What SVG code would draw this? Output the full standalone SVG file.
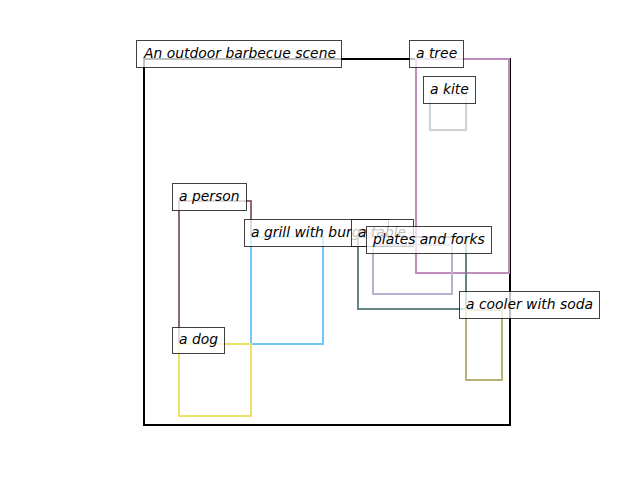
<svg xmlns="http://www.w3.org/2000/svg" width="640" height="480" viewBox="0 0 640 480">
<style>
.box{fill:none;stroke-width:2}
.lb{fill:#fff;fill-opacity:0.75;stroke:#000;stroke-opacity:0.75;stroke-width:1}
.t{font-family:"DejaVu Sans",sans-serif;font-style:italic;font-size:13.9px;fill:#000}
</style>
<rect width="640" height="480" fill="#fff"/>
<g id="scene">
<rect class="box" x="144" y="59" width="366" height="366" stroke="#000"/>
<rect class="lb" x="136.5" y="40.5" width="205" height="27"/>
<text class="t" x="144" y="57.5">An outdoor barbecue scene</text>
</g>
<g id="tree">
<rect class="box" x="416" y="59" width="93" height="214" stroke="#c08cbf"/>
<rect class="lb" x="409.5" y="40.5" width="54" height="27"/>
<text class="t" x="416" y="57.5">a tree</text>
</g>
<g id="kite">
<rect class="box" x="430" y="95" width="36" height="35" stroke="#d0d0d0"/>
<rect class="lb" x="423.5" y="76.5" width="52" height="27"/>
<text class="t" x="430" y="93.5">a kite</text>
</g>
<g id="person">
<rect class="box" x="179" y="201" width="72" height="143" stroke="#8c6a7c"/>
<rect class="lb" x="172.5" y="183.5" width="74" height="27"/>
<text class="t" x="179" y="200.5">a person</text>
</g>
<g id="grill">
<rect class="box" x="251" y="237" width="72" height="107" stroke="#70c6f4"/>
<rect class="lb" x="244.5" y="219.5" width="144" height="27"/>
<text class="t" x="251" y="236.5">a grill with burgers</text>
</g>
<g id="table">
<rect class="box" x="358" y="237" width="108" height="72" stroke="#628483"/>
<rect class="lb" x="351.5" y="219.5" width="62" height="27"/>
<text class="t" x="358" y="236.5">a table</text>
</g>
<g id="plates">
<rect class="box" x="373" y="245" width="79" height="49" stroke="#b4b4d0"/>
<rect class="lb" x="366.5" y="226.5" width="125" height="27"/>
<text class="t" x="373" y="243.5">plates and forks</text>
</g>
<g id="cooler">
<rect class="box" x="466" y="310" width="36" height="70" stroke="#b6b277"/>
<rect class="lb" x="459.5" y="291.5" width="140" height="27"/>
<text class="t" x="466" y="308.5">a cooler with soda</text>
</g>
<g id="dog">
<rect class="box" x="179" y="344" width="72" height="72" stroke="#ece26a"/>
<rect class="lb" x="172.5" y="327.5" width="52" height="26"/>
<text class="t" x="179" y="343.5">a dog</text>
</g>
<g id="connectors"></g>
</svg>
